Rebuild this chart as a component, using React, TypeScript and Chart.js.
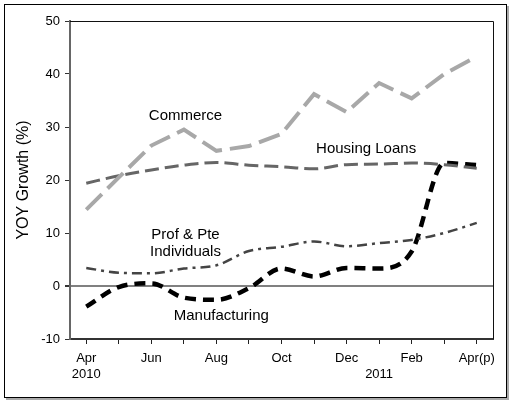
import React, { useEffect, useRef } from "react";
import { Chart, registerables } from "chart.js";

Chart.register(...registerables);

const months: (string | string[])[] = [
  ["Apr", "2010"], "", "Jun", "", "Aug", "", "Oct", "", "Dec", ["", "2011"], "Feb", "", "Apr(p)",
];

const commerce = [14.4, 20.5, 26.5, 29.5, 25.5, 26.4, 28.7, 36.2, 32.8, 38.3, 35.4, 40.0, 43.3];
const housingLoans = [19.4, 20.8, 21.9, 22.8, 23.3, 22.8, 22.5, 22.1, 22.9, 23.0, 23.2, 22.9, 22.2];
const profPte = [3.4, 2.5, 2.4, 3.3, 3.9, 6.6, 7.4, 8.4, 7.5, 8.1, 8.7, 10.0, 11.9];
const manufacturing = [-3.9, -0.2, 0.5, -2.2, -2.6, -0.4, 3.3, 1.8, 3.4, 3.3, 6.5, 23.2, 22.8];

const yTicks = { min: -10, max: 50, step: 10 };

// label text, x category index, y value
const annText = ["Commerce", "Housing Loans", "Prof & Pte", "Individuals", "Manufacturing"];
const annX = [3.05, 8.6, 3.05, 3.05, 4.15];
const annY = [32.1, 25.9, 9.7, 6.4, -5.6];

const FONT = "Arial, 'Liberation Sans', sans-serif";

const annotationPlugin = {
  id: "annots",
  afterDatasetsDraw(chart: any) {
    const { ctx, scales } = chart;
    ctx.save();
    ctx.font = `15px ${FONT}`;
    ctx.fillStyle = "#000";
    ctx.textAlign = "center";
    ctx.textBaseline = "middle";
    annText.forEach((t, i) => {
      const x = scales.x.getPixelForValue(annX[i]);
      const y = scales.y.getPixelForValue(annY[i]);
      ctx.fillText(t, x, y);
    });
    ctx.restore();
  },
};

const framePlugin = {
  id: "frame",
  afterDraw(chart: any) {
    const { ctx, chartArea } = chart;
    ctx.save();
    ctx.strokeStyle = "#111";
    ctx.lineWidth = 1;
    ctx.beginPath();
    ctx.moveTo(chartArea.left, chartArea.top + 0.5);
    ctx.lineTo(chartArea.right + 0.5, chartArea.top + 0.5);
    ctx.lineTo(chartArea.right + 0.5, chartArea.bottom);
    ctx.stroke();
    ctx.restore();
  },
};

export default function App() {
  const ref = useRef<HTMLCanvasElement>(null);
  useEffect(() => {
    if (!ref.current) return;
    const chart = new Chart(ref.current, {
      type: "line",
      data: {
        labels: months,
        datasets: [
          {
            label: "Commerce",
            data: commerce,
            borderColor: "#a8a8a8",
            borderWidth: 4,
            borderDash: [22, 8],
            pointRadius: 0,
            tension: 0,
          },
          {
            label: "Housing Loans",
            data: housingLoans,
            borderColor: "#666",
            borderWidth: 3,
            borderDash: [14, 6],
            pointRadius: 0,
            cubicInterpolationMode: "monotone",
          },
          {
            label: "Prof & Pte Individuals",
            data: profPte,
            borderColor: "#444",
            borderWidth: 2.5,
            borderDash: [10, 5, 3, 5],
            pointRadius: 0,
            cubicInterpolationMode: "monotone",
          },
          {
            label: "Manufacturing",
            data: manufacturing,
            borderColor: "#000",
            borderWidth: 4.5,
            borderDash: [11, 7],
            pointRadius: 0,
            cubicInterpolationMode: "monotone",
          },
        ],
      },
      options: {
        responsive: false,
        animation: false,
        layout: { padding: { top: 21, right: 18, left: 0, bottom: 0 } },
        plugins: { legend: { display: false }, tooltip: { enabled: false } },
        scales: {
          x: {
            type: "category",
            offset: true,
            afterFit: (s: any) => {
              s.height = 62;
            },
            grid: {
              display: true,
              drawOnChartArea: false,
              drawTicks: true,
              tickLength: 5,
              color: "#222",
              tickColor: "#222",
            },
            border: { display: true, color: "#333", width: 2 },
            ticks: {
              autoSkip: false,
              maxRotation: 0,
              minRotation: 0,
              padding: 6,
              color: "#000",
              font: { family: FONT, size: 13, lineHeight: 1.25 },
            },
          },
          y: {
            min: yTicks.min,
            max: yTicks.max,
            afterFit: (s: any) => {
              s.width = 70;
            },
            grid: {
              drawOnChartArea: true,
              drawTicks: true,
              tickLength: 5,
              color: (c: any) => (c.tick && c.tick.value === 0 ? "#808080" : "rgba(0,0,0,0)"),
              lineWidth: (c: any) => (c.tick && c.tick.value === 0 ? 2 : 1),
              tickColor: "#333",
            },
            border: { display: true, color: "#666", width: 2 },
            ticks: {
              stepSize: yTicks.step,
              padding: 5,
              color: "#000",
              font: { family: FONT, size: 13 },
            },
            title: {
              display: true,
              text: "YOY Growth (%)",
              color: "#000",
              font: { family: FONT, size: 16 },
              padding: { top: 14, bottom: 0 },
            },
          },
        },
      },
      plugins: [annotationPlugin, framePlugin],
    });
    return () => chart.destroy();
  }, []);

  return (
    <div style={{ position: "absolute", left: 0, top: 0, width: 511, height: 401, background: "#fff" }}>
      <div
        style={{
          position: "absolute",
          left: 4,
          top: 4,
          width: 501,
          height: 392,
          border: "1px solid #000",
          boxShadow: "2px 2px 0 #aaa",
        }}
      />
      <canvas ref={ref} width={511} height={401} style={{ position: "absolute", left: 0, top: 0 }} />
    </div>
  );
}
